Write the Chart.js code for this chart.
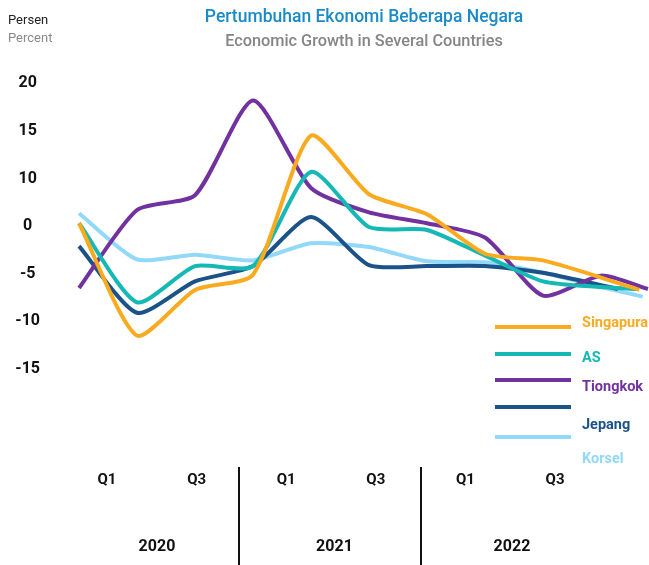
<!DOCTYPE html>
<html>
<head>
<meta charset="utf-8">
<title>Pertumbuhan Ekonomi Beberapa Negara</title>
<script src="https://cdn.jsdelivr.net/npm/chart.js@4.4.1/dist/chart.umd.min.js"></script>
<style>
    body { margin: 0; background: #fff; font-family: Roboto, 'DejaVu Sans', sans-serif; }
    .wrap { position: relative; width: 649px; height: 565px; }
    canvas { position: absolute; left: 0; top: 0; }
    .unit { position: absolute; left: 8px; top: 11px; font-size: 13px; line-height: 18px; }
    .unit .id { color: #222; }
    .unit .en { color: #8a8a8a; }
    .title { position: absolute; left: 364px; transform: translateX(-50%); white-space: nowrap; font-weight: 500; }
    .title.id { top: 6px; font-size: 17.5px; color: #1a8bc9; }
    .title.en { top: 31px; font-size: 16.3px; color: #858585; }
    .legend-line { position: absolute; left: 495px; width: 76px; height: 4px; }
    .legend-text { position: absolute; left: 582px; font-size: 14.5px; font-weight: bold; line-height: 16px; }
</style>
</head>
<body>
<div class="wrap">
    <canvas id="growthChart" width="649" height="565"></canvas>
    <div class="unit"><div class="id">Persen</div><div class="en">Percent</div></div>
    <div class="title id">Pertumbuhan Ekonomi Beberapa Negara</div>
    <div class="title en">Economic Growth in Several Countries</div>
    <div id="legend"></div>
</div>

<script>
/* Data (percent, yoy) */

const seriesNames  = ['Singapura', 'AS', 'Tiongkok', 'Jepang', 'Korsel'];
const seriesColors = ['#f9aa1f', '#14b8b4', '#7132a0', '#1b5288', '#92d8f8'];

// step positions along the hidden data axis
const stepX = [0, 1, 2, 3, 4, 5, 6, 7, 8, 9];

const singapura = [0.6, -11.5, -6.7, -5.1, 14.5, 6.7, 2.5, -2.9, -3.6, -5.4];
const as        = [0.6, -8.0, -4.2, -4.2, 10.7, -0.1, -0.4, -3.1, -5.8, -6.4];
const tiongkok  = [-6.5, 3.4, 6.5, 18.2, 8.0, 2.9, 0.6, -1.2, -7.3, -5.2];
const jepang    = [-2.1, -9.1, -5.8, -4.2, 1.9, -4.1, -4.2, -4.2, -4.9, -6.2];
const korsel    = [2.7, -3.5, -3.0, -3.6, -1.8, -2.2, -3.7, -3.8, -4.9, -6.4];

// each line stops at its own spot after the last step
const tailX = [9.66, 9.60, 9.81, 9.29, 9.72];
const tailY = [-6.7, -6.6, -6.6, -6.6, -7.4];

// y axis labels as printed (the 0..10 band is squeezed into one step)
const yTicks = [-15, -10, -5, 0, 10, 15, 20];

const quarterTicks  = [0, 2, 4, 6, 8, 10];
const quarterLabels = ['Q1', 'Q3', 'Q1', 'Q3', 'Q1', 'Q3'];
const years         = [2020, 2021, 2022];
const yearBreaks    = [2020.46, 2021.49];

/* Scale that spaces the printed ticks evenly */

class GapScale extends Chart.LinearScale {
    static id = 'gap';
    static defaults = {};

    toSlot(v) {
        const t = yTicks;
        if (v <= t[0]) return (v - t[0]) / (t[1] - t[0]);
        for (let i = 1; i < t.length; i++) {
            if (v <= t[i]) return i - 1 + (v - t[i - 1]) / (t[i] - t[i - 1]);
        }
        const n = t.length - 1;
        return n + (v - t[n]) / (t[n] - t[n - 1]);
    }

    getPixelForValue(v) {
        const lo = this.toSlot(this.min);
        const hi = this.toSlot(this.max);
        return this.getPixelForDecimal((this.toSlot(v) - lo) / (hi - lo));
    }
}
Chart.register(GapScale);

/* Year dividers under the plot */

const yearDividers = {
    id: 'yearDividers',
    afterDraw(chart) {
        const { ctx, chartArea } = chart;
        const xy = chart.scales.xy;
        ctx.save();
        ctx.strokeStyle = '#111';
        ctx.lineWidth = 2;
        yearBreaks.forEach(b => {
            const x = Math.round(xy.getPixelForValue(b));
            ctx.beginPath();
            ctx.moveTo(x, chartArea.bottom);
            ctx.lineTo(x, chart.height);
            ctx.stroke();
        });
        ctx.restore();
    },
};

const tickFont = size => ({ family: 'Roboto', size, weight: 'bold' });
const values = [singapura, as, tiongkok, jepang, korsel];

const datasets = values.map((vals, i) => ({
    label: seriesNames[i],
    data: stepX.map((x, j) => ({ x, y: vals[j] })).concat({ x: tailX[i], y: tailY[i] }),
    borderColor: seriesColors[i],
    borderWidth: 4,
    borderJoinStyle: 'round',
    pointRadius: 0,
    fill: false,
    tension: 0.22,
}));

new Chart(document.getElementById('growthChart'), {
    type: 'line',
    data: { datasets },
    plugins: [yearDividers],
    options: {
        responsive: false,
        animation: false,
        events: [],
        layout: { padding: { top: 60, left: 0, right: 0, bottom: 0 } },
        plugins: {
            legend: { display: false },
            tooltip: { enabled: false },
        },
        scales: {
            x: {
                type: 'linear',
                display: false,
                min: -0.431,
                max: 9.828,
            },
            y: {
                type: 'gap',
                min: -25.3,
                max: 22.45,
                afterBuildTicks: s => { s.ticks = yTicks.map(v => ({ value: v })); },
                afterFit: s => { s.width = 54; },
                grid: { display: false, drawTicks: false },
                border: { display: false },
                ticks: {
                    color: '#111',
                    font: tickFont(16),
                    padding: 14,
                    crossAlign: 'center',
                    callback: v => String(v),
                },
            },
            xq: {
                type: 'linear',
                position: 'bottom',
                weight: 0,
                min: -1.183,
                max: 12.098,
                afterBuildTicks: s => { s.ticks = quarterTicks.map(v => ({ value: v })); },
                afterFit: s => { s.height = 36; },
                grid: { display: false, drawTicks: false },
                border: { display: false },
                ticks: {
                    autoSkip: false,
                    maxRotation: 0,
                    padding: 4,
                    color: '#111',
                    font: tickFont(15),
                    callback: (v, i) => quarterLabels[i],
                },
            },
            xy: {
                type: 'linear',
                position: 'bottom',
                weight: 1,
                min: 2019.42,
                max: 2022.772,
                afterBuildTicks: s => { s.ticks = years.map(v => ({ value: v })); },
                afterFit: s => { s.height = 62; },
                grid: { display: false, drawTicks: false },
                border: { display: false },
                ticks: {
                    autoSkip: false,
                    maxRotation: 0,
                    padding: 34,
                    color: '#111',
                    font: tickFont(16),
                    callback: v => String(v),
                },
            },
        },
    },
});

/* Legend (lines and names sit a little apart, as in the print) */

const legendLineY = [325, 352, 378, 405, 435];
const legendTextY = [315, 350, 379, 417, 451];
const legend = document.getElementById('legend');
seriesNames.forEach((name, i) => {
    const line = document.createElement('div');
    line.className = 'legend-line';
    line.style.top = legendLineY[i] + 'px';
    line.style.background = seriesColors[i];
    legend.appendChild(line);

    const text = document.createElement('div');
    text.className = 'legend-text';
    text.style.top = legendTextY[i] + 'px';
    text.style.color = seriesColors[i];
    text.textContent = name;
    legend.appendChild(text);
});
</script>
</body>
</html>
